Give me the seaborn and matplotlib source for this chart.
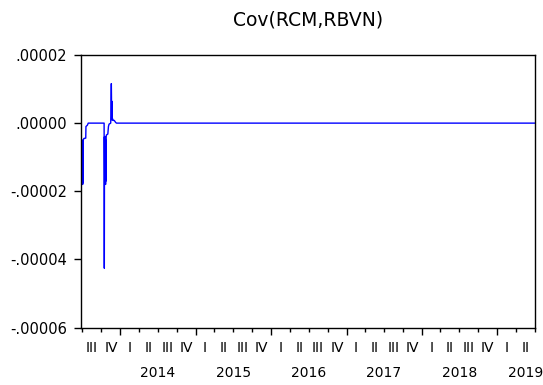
import matplotlib
matplotlib.use("Agg")
import matplotlib.pyplot as plt
import matplotlib.dates as mdates
import matplotlib.ticker as mticker
import pandas as pd
import seaborn as sns

# Daily conditional covariance, only the dates where it moves away from zero
dates = [
    "2013-06-24", "2013-06-25", "2013-06-26",
    "2013-06-27", "2013-06-28", "2013-07-01", "2013-07-02", "2013-07-03",
    "2013-07-04", "2013-07-05", "2013-07-08", "2013-07-17", "2013-07-18",
    "2013-07-25", "2013-07-29",
    "2013-10-14", "2013-10-15", "2013-10-16", "2013-10-17", "2013-10-18",
    "2013-10-21", "2013-10-22", "2013-10-23", "2013-10-24", "2013-10-25",
    "2013-11-01", "2013-11-04", "2013-11-07", "2013-11-15", "2013-11-18",
    "2013-11-19", "2013-11-20", "2013-11-21", "2013-11-22", "2013-11-25",
    "2013-11-26", "2013-12-02", "2013-12-09", "2013-12-13",
    "2019-07-03",
]
cov_values = [
    -5.0e-6, -1.80e-5, -6.0e-6,
    -5.0e-6, -1.80e-5, -5.0e-6, -1.80e-5, -6.0e-6,
    -1.75e-5, -5.0e-6, -4.5e-6, -4.4e-6, -1.0e-6,
    -0.6e-6, 0.0,
    0.0, -4.26e-5, -4.0e-6, -1.80e-5, -4.0e-6,
    -1.80e-5, -5.0e-6, -1.70e-5, -4.0e-6, -3.5e-6,
    -3.2e-6, -1.0e-6, -0.3e-6, 0.0, 1.16e-5,
    6.0e-6, 1.0e-6, 6.4e-6, 1.0e-6, 1.2e-6,
    0.8e-6, 0.8e-6, 0.2e-6, 0.0,
    0.0,
]

title = "Cov(RCM,RBVN)"
y_ticks = [0.00002, 0.0, -0.00002, -0.00004, -0.00006]
quarter_names = ["I", "II", "III", "IV"]
years = [2014, 2015, 2016, 2017, 2018, 2019]
x_start, x_end = "2013-06-24", "2019-07-03"

sns.set_style("ticks")
plt.rcParams["font.family"] = ["DejaVu Sans"]
plt.rcParams["text.color"] = "black"

df = pd.DataFrame({"date": pd.to_datetime(dates), "cov": cov_values})

W, H = 543, 385
left, right, top, bottom = 81, 535, 55, 327.5
fig = plt.figure(figsize=(W / 100, H / 100), dpi=100)
ax = fig.add_axes([left / W, 1 - bottom / H, (right - left) / W, (bottom - top) / H])

sns.lineplot(data=df, x="date", y="cov", ax=ax, color="#0000FF", linewidth=1.0)

xmin, xmax = pd.Timestamp(x_start), pd.Timestamp(x_end)
ax.set_xlim(xmin, xmax)
ax.set_ylim(min(y_ticks), max(y_ticks))

# y axis: EViews-style labels without the leading zero
ax.set_yticks(y_ticks)
def fmt(v, pos=None):
    s = f"{abs(v):.5f}".lstrip("0")
    return ("-" if v < -1e-12 else "") + s
ax.yaxis.set_major_formatter(mticker.FuncFormatter(fmt))
ax.tick_params(axis="y", direction="out", length=5, width=1, pad=5,
               labelsize=10.5, colors="black")

# x axis: long ticks at year starts, short ticks at quarter starts
ax.xaxis.set_major_locator(mdates.YearLocator())
ax.xaxis.set_minor_locator(mdates.MonthLocator(bymonth=[4, 7, 10]))
ax.xaxis.set_major_formatter(mticker.NullFormatter())
ax.xaxis.set_minor_formatter(mticker.NullFormatter())
ax.tick_params(axis="x", which="major", direction="out", length=5, width=1,
               colors="black")
ax.tick_params(axis="x", which="minor", direction="out", length=3, width=1,
               colors="black")
ax.set_xlabel("")
ax.set_ylabel("")

for s in ax.spines.values():
    s.set_visible(True)
    s.set_linewidth(1.0)
    s.set_color("black")

trans = ax.get_xaxis_transform()
ax_h = bottom - top
q_y = -(348 - bottom) / ax_h
y_y = -(373 - bottom) / ax_h

# quarter labels centred in each quarter
q_starts = pd.date_range("2013-07-01", "2019-04-01", freq="QS")
last_center = None
for qs in q_starts:
    qe = qs + pd.offsets.QuarterBegin(startingMonth=1)
    center = qs + (qe - qs) / 2
    last_center = center
    ax.text(mdates.date2num(center), q_y, quarter_names[qs.quarter - 1],
            transform=trans, ha="center", va="center", fontsize=10,
            clip_on=False)

# year labels centred under each year; the partial last year sits under
# its last labelled quarter
for yr in years:
    center = pd.Timestamp(f"{yr}-07-01")
    if center > last_center:
        center = last_center
    ax.text(mdates.date2num(center), y_y, str(yr), transform=trans,
            ha="center", va="center", fontsize=10, clip_on=False)

fig.text((left + right) / 2 / W, 1 - 20 / H, title, ha="center",
         va="center", fontsize=13.5, color="black")

fig.savefig("out.png", dpi=100, facecolor="white")
